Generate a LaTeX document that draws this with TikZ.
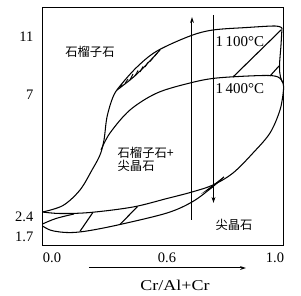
\documentclass[tikz,border=0pt]{standalone}
\usepackage{fontspec}
\setmainfont{Liberation Serif}
\newfontfamily\cjk{Noto Sans CJK SC}
\usetikzlibrary{arrows.meta}
\begin{document}
\begin{tikzpicture}[x=1pt,y=-1pt,
  curve/.style={line width=1.05pt, line join=round},
  hatch/.style={line width=1.1pt},
  num/.style={inner sep=0pt, font=\fontsize{14.5}{15}\selectfont},
  zh/.style={inner sep=0pt, font=\cjk\fontsize{12.3}{13}\selectfont},
  tipped/.style={line width=1pt, -{Stealth[length=6pt,width=3.8pt]}}]
\useasboundingbox (0,0) rectangle (301,296);
% frame
\draw[line width=1pt] (42.5,8) rectangle (284,246);
% upper 1100 boundary (steep left part + top)
\draw[curve] plot[smooth, tension=0.55] coordinates {(42.5,212) (63,205.5) (80,190) (92,170) (100,155) (104,140) (107,117) (113,97) (120,86) (137,67) (157,51) (190,36) (213,30) (247,27.5) (275,26) (282,28)};
% right closure
\draw[curve] plot[smooth, tension=0.6] coordinates {(282,28) (281,45) (279.5,66) (280.5,77) (283,83)};
% 1400 upper boundary
\draw[curve] plot[smooth, tension=0.55] coordinates {(101,150) (110,133) (130,110) (157,93) (190,83) (217,78) (263,75.5) (278,77) (283,83)};
% line A (2.4)
\draw[curve] plot[smooth, tension=0.55] coordinates {(42.5,212) (60,213.5) (90,212.5) (133,207) (167,198.5) (192,192) (213,185) (233,173) (253,153) (270,133) (280,110) (283.5,90) (283,83)};
% curve C (1.7)
\draw[curve] plot[smooth, tension=0.55] coordinates {(42.5,226) (50,230) (60,232) (73,232.5) (90,230.5) (120,224.5) (167,213) (192,202) (210,189) (224,177)};
% line B
\draw[curve] plot[smooth, tension=0.6] coordinates {(42.5,224) (56,218.5) (74,214)};
% wedge at merge
\fill (201,194) -- (224,176.5) -- (212,188) -- cycle;
% bottom hatches
\draw[hatch] (93,212.3) -- (80,231.3);
\draw[hatch] (137.5,206.5) -- (120,224.5);
% upper-left thin hatched lens
\draw[curve] plot[smooth, tension=0.6] coordinates {(117,90) (133,77.5) (147,64) (160,50)};
\foreach \a/\b/\c/\d in {120/88/122/84, 125/83.5/128/79, 130/80/133/74, 135/76/138/70.5, 140/72/143/66.5, 145/67/148/62.5, 150/61.5/153/58, 155/56/157/53}
  \draw[line width=0.9pt] (\a,\b) -- (\c,\d);
% upper-right hatches
\draw[hatch] (233,77) -- (281,30);
\draw[hatch] (270,76) -- (279,66);
% vertical arrows
\draw[tipped] (192,220) -- (192,17);
\draw[tipped] (213.5,15) -- (213.5,203);
% bottom arrow
\draw[tipped] (89,268) -- (246,268);
% labels
\node[num, anchor=west, font=\fontsize{15}{15}\selectfont] (t1100) at (215.5,42) {1\,100°C};
\node[num, anchor=west, font=\fontsize{15}{15}\selectfont] (t1400) at (215.5,89) {1\,400°C};
\node[num, anchor=east] (y11) at (33.5,37) {11};
\node[num, anchor=east] (y7) at (33.5,95) {7};
\node[num, anchor=east] (y24) at (33.5,217) {2.4};
\node[num, anchor=east] (y17) at (33.5,237) {1.7};
\node[num] (x00) at (52,258) {0.0};
\node[num] (x06) at (167,258) {0.6};
\node[num] (x10) at (275,258) {1.0};
\node[num, font=\fontsize{15}{15}\selectfont, xscale=1.2] (xlab) at (175,285) {Cr/Al+Cr};
\node[zh] (garnet) at (90,52) {石榴子石};
\node[zh, anchor=west] (gs1) at (117.5,152.5) {石榴子石+};
\node[zh, anchor=west] (gs2) at (117.5,165.5) {尖晶石};
\node[zh] (spinel) at (234,225) {尖晶石};
\end{tikzpicture}
\end{document}
